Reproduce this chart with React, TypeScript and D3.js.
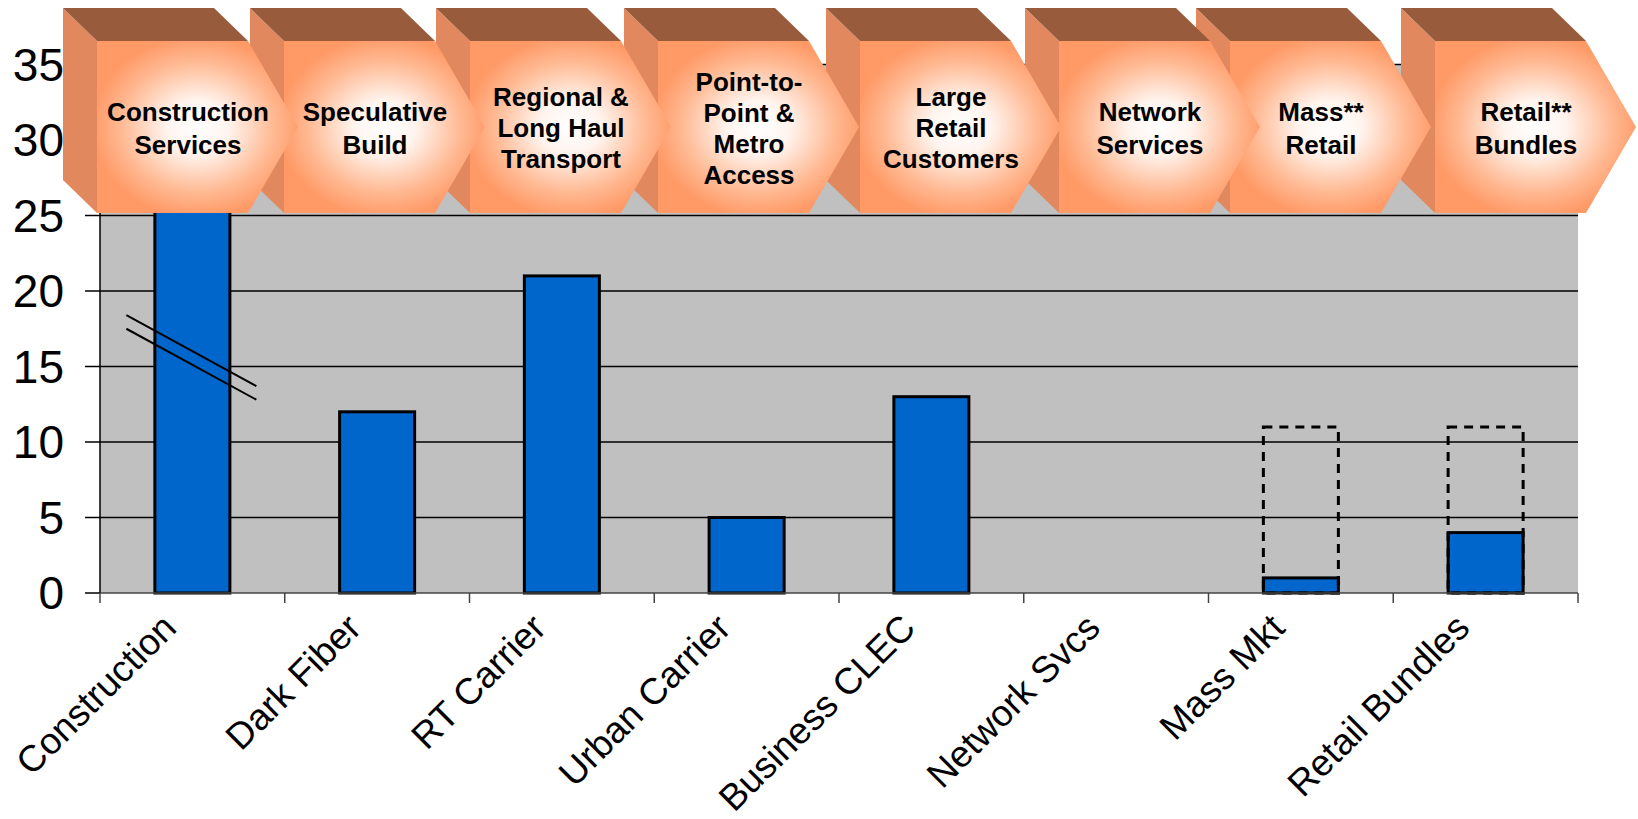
import React from 'react';
import * as d3 from 'd3';

// chart values
const categories = ['Construction', 'Dark Fiber', 'RT Carrier', 'Urban Carrier', 'Business CLEC', 'Network Svcs', 'Mass Mkt', 'Retail Bundles'];
const values = [35, 12, 21, 5, 13, 0, 1, 4];
const potential = [null, null, null, null, null, null, 11, 11];
const yTicks = [0, 5, 10, 15, 20, 25, 30, 35];
// axis break slashes over the first bar (start value, end value)
const breakMarks = [[18.4, 13.7], [17.5, 12.8]];

// value chain stages drawn as 3D chevrons
const stages = [
  ['Construction', 'Services'],
  ['Speculative', 'Build'],
  ['Regional &', 'Long Haul', 'Transport'],
  ['Point-to-', 'Point &', 'Metro', 'Access'],
  ['Large', 'Retail', 'Customers'],
  ['Network', 'Services'],
  ['Mass**', 'Retail'],
  ['Retail**', 'Bundles'],
];
const stageX = [97, 284, 470, 658, 860, 1059, 1230, 1435];

const W = 1638;
const H = 819;
const left = 100;
const right = 1578;
const bottom = 593;
const top = 64.5;

const FONT = '"Liberation Sans", Arial, sans-serif';

function Chevron({x, lines, id}: {x: number, lines: string[], id: string}) {
  const dx = 34, dy = 33;
  const y0 = 41, y1 = 213, w = 151, tip = 50;
  const mid = (y0 + y1) / 2;
  const front = `M${x},${y0}L${x + w},${y0}L${x + w + tip},${mid}L${x + w},${y1}L${x},${y1}Z`;
  const side = `M${x - dx},${y0 - dy}L${x},${y0}L${x},${y1}L${x - dx},${y1 - dy}Z`;
  const topFace = `M${x - dx},${y0 - dy}L${x + w - dx},${y0 - dy}L${x + w},${y0}L${x},${y0}Z`;
  const lh = lines.length > 2 ? 31 : 33;
  const cy = 128;
  return (
    <g>
      <path d={side} fill="#E2885E"/>
      <path d={topFace} fill="#985C3C"/>
      <path d={front} fill={`url(#${id})`}/>
      <text fontFamily={FONT} fontWeight="bold" fontSize={26} textAnchor="middle" fill="#000">
        {lines.map((l, i) => (
          <tspan key={i} x={x + 91} y={cy + 9.3 + (i - (lines.length - 1) / 2) * lh}>{l}</tspan>
        ))}
      </text>
    </g>
  );
}

export default function App() {
  const x = d3.scaleBand<string>()
    .domain(categories)
    .range([left, right])
    .paddingInner(0.594)
    .paddingOuter(0.297);
  const y = d3.scaleLinear().domain([0, 35]).range([bottom, top]);
  const bw = x.bandwidth();
  const step = x.step();
  const boundaries = d3.range(categories.length + 1).map(i => left + i * step);

  const c0 = x(categories[0])! + bw / 2;

  return (
    <svg width={W} height={H} viewBox={`0 0 ${W} ${H}`}
      style={{position: 'absolute', left: 0, top: 0, background: '#fff'}}>
      <defs>
        <radialGradient id="face" cx="0.5" cy="0.5" r="0.62">
          <stop offset="0" stopColor="#ffffff"/>
          <stop offset="0.25" stopColor="#fff4ee"/>
          <stop offset="0.62" stopColor="#ffb891"/>
          <stop offset="0.85" stopColor="#ff9966"/>
          <stop offset="1" stopColor="#ff9966"/>
        </radialGradient>
      </defs>

      {/* plot area */}
      <rect x={left} y={top} width={right - left} height={bottom - top} fill="#C0C0C0"/>
      {yTicks.filter(t => t > 0).map(t => (
        <line key={t} x1={left} x2={right} y1={y(t)} y2={y(t)} stroke="#000" strokeWidth={1.3}/>
      ))}

      {/* bars */}
      {values.map((v, i) => v > 0 ? (
        <rect key={i} x={x(categories[i])} y={y(v)} width={bw} height={y(0) - y(v)}
          fill="#0066CC" stroke="#000" strokeWidth={3}/>
      ) : null)}
      {potential.map((v, i) => v != null ? (
        <rect key={'p' + i} x={x(categories[i])} y={y(v)} width={bw} height={y(0) - y(v)}
          fill="none" stroke="#000" strokeWidth={3} strokeDasharray="9 7"/>
      ) : null)}

      {/* axis break */}
      {breakMarks.map((b, i) => (
        <line key={'b' + i} x1={c0 - 66} x2={c0 + 64} y1={y(b[0])} y2={y(b[1])} stroke="#000" strokeWidth={2}/>
      ))}

      {/* y axis */}
      <line x1={left} x2={left} y1={top} y2={bottom} stroke="#000" strokeWidth={1.5}/>
      {yTicks.map(t => (
        <g key={'y' + t}>
          <line x1={left - 15} x2={left} y1={y(t)} y2={y(t)} stroke="#000" strokeWidth={1.5}/>
          <text x={64} y={y(t)} dy="0.35em" textAnchor="end" fontFamily={FONT} fontSize={46} fill="#000">{t}</text>
        </g>
      ))}

      {/* x axis */}
      <line x1={left} x2={right} y1={bottom} y2={bottom} stroke="#444" strokeWidth={1.5}/>
      {boundaries.map((b, i) => (
        <line key={'xt' + i} x1={b} x2={b} y1={bottom} y2={bottom + 10} stroke="#444" strokeWidth={1.5}/>
      ))}
      {categories.map(c => (
        <text key={c} transform={`translate(${x(c)! + bw / 2 - 14},${630}) rotate(-45)`}
          textAnchor="end" fontFamily={FONT} fontSize={37} fill="#000">{c}</text>
      ))}

      {/* value chain chevrons, drawn right to left so each tip overlaps the next */}
      {stages.map((s, i) => ({s, i})).reverse().map(({s, i}) => (
        <Chevron key={'s' + i} x={stageX[i]} lines={s} id="face"/>
      ))}
    </svg>
  );
}
